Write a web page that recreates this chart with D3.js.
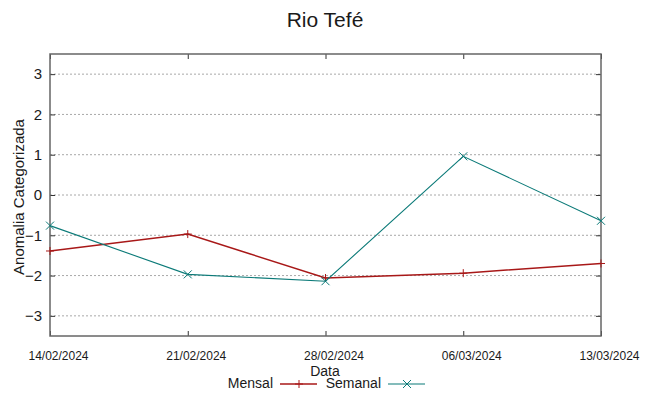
<!DOCTYPE html>
<html>
<head>
<meta charset="utf-8">
<script src="https://cdn.jsdelivr.net/npm/d3@7"></script>
<style>
    body { margin: 0; background: #fff; }
    text { font-family: "Liberation Sans", Arial, sans-serif; fill: #1a1a1a; }
</style>
</head>
<body>
<script>
// chart data
const dates = ["14/02/2024", "21/02/2024", "28/02/2024", "06/03/2024", "13/03/2024"];
const mensal = [-1.39, -0.97, -2.06, -1.94, -1.70];
const semanal = [-0.76, -1.97, -2.14, 0.96, -0.64];
const yTicks = [-3, -2, -1, 0, 1, 2, 3];
const seriesNames = ["Mensal", "Semanal"];

window.onload = initPage;

function initPage() {
    const svgInfo = {
        SVG_WIDTH: 649,
        SVG_HEIGHT: 396,
        SVG_ID: "svgVis",
        LEFT: 50,
        RIGHT: 601,
        TOP: 54,
        BOTTOM: 336,
    };
    initSvg(svgInfo);
    displayData(svgInfo);
}

function initSvg(svgInfo) {
    d3.select("body")
        .append("svg")
        .attr("width", svgInfo.SVG_WIDTH)
        .attr("height", svgInfo.SVG_HEIGHT)
        .attr("id", svgInfo.SVG_ID);
}

function displayData(svgInfo) {
    const svg = d3.select("#" + svgInfo.SVG_ID);
    const xAxis = d3.scalePoint()
        .domain(dates)
        .range([svgInfo.LEFT, svgInfo.RIGHT]);
    const yAxis = d3.scaleLinear()
        .domain([-3.5, 3.5])
        .range([svgInfo.BOTTOM, svgInfo.TOP]);

    // dotted horizontal grid
    svg.append("g")
        .selectAll("line")
        .data(yTicks)
        .enter()
        .append("line")
        .attr("x1", svgInfo.LEFT)
        .attr("x2", svgInfo.RIGHT)
        .attr("y1", (d) => yAxis(d))
        .attr("y2", (d) => yAxis(d))
        .attr("stroke", "#a8a8a8")
        .attr("stroke-width", 1)
        .attr("stroke-dasharray", "2,2");

    // axes, ticks pointing inwards like gnuplot
    const left = svg.append("g")
        .attr("transform", `translate(${svgInfo.LEFT},0)`)
        .call(d3.axisLeft(yAxis).tickValues(yTicks).tickFormat(d3.format("d"))
            .tickSizeInner(-5).tickSizeOuter(0).tickPadding(8));
    left.selectAll("text").style("font-size", "15px");
    svg.append("g")
        .attr("transform", `translate(${svgInfo.RIGHT},0)`)
        .call(d3.axisRight(yAxis).tickValues(yTicks).tickSizeInner(-5).tickSizeOuter(0).tickFormat(""));
    const bottom = svg.append("g")
        .attr("transform", `translate(0,${svgInfo.BOTTOM})`)
        .call(d3.axisBottom(xAxis).tickSizeInner(-5).tickSizeOuter(0));
    bottom.selectAll("text")
        .attr("x", 8)
        .attr("y", 24)
        .attr("dy", null)
        .style("font-size", "12px");
    svg.append("g")
        .attr("transform", `translate(0,${svgInfo.TOP})`)
        .call(d3.axisTop(xAxis).tickSizeInner(-5).tickSizeOuter(0).tickFormat(""));
    svg.selectAll(".domain").remove();
    svg.selectAll(".tick line").attr("stroke", "#333").attr("stroke-width", 1);

    // plot border
    svg.append("rect")
        .attr("x", svgInfo.LEFT)
        .attr("y", svgInfo.TOP)
        .attr("width", svgInfo.RIGHT - svgInfo.LEFT)
        .attr("height", svgInfo.BOTTOM - svgInfo.TOP)
        .attr("fill", "none")
        .attr("stroke", "#666")
        .attr("stroke-width", 1.5);

    const colors = ["#a81818", "#0b7a78"];
    const widths = [1.5, 1.1];
    const allSeries = [mensal, semanal];
    const line = d3.line()
        .x((d, i) => xAxis(dates[i]))
        .y((d) => yAxis(d));

    allSeries.forEach((values, s) => {
        svg.append("path")
            .datum(values)
            .attr("d", line)
            .attr("fill", "none")
            .attr("stroke", colors[s])
            .attr("stroke-width", widths[s]);
        svg.append("g")
            .selectAll("path")
            .data(values)
            .enter()
            .append("path")
            .attr("transform", (d, i) => `translate(${xAxis(dates[i])},${yAxis(d)})`)
            .attr("d", s === 0 ? "M-4,0H4M0,-4V4" : "M-4,-4L4,4M-4,4L4,-4")
            .attr("stroke", colors[s])
            .attr("stroke-width", 1);
    });

    // title and axis labels
    svg.append("text")
        .attr("x", 325)
        .attr("y", 27)
        .attr("text-anchor", "middle")
        .style("font-size", "21px")
        .text("Rio Tefé");
    svg.append("text")
        .attr("transform", "translate(24,197) rotate(-90)")
        .attr("text-anchor", "middle")
        .style("font-size", "15px")
        .text("Anomalia Categorizada");
    svg.append("text")
        .attr("x", 325)
        .attr("y", 376)
        .attr("text-anchor", "middle")
        .style("font-size", "14px")
        .text("Data");

    // legend
    const legendX = [273, 381];
    seriesNames.forEach((name, s) => {
        const g = svg.append("g").attr("transform", `translate(${legendX[s]},0)`);
        g.append("text")
            .attr("x", 0)
            .attr("y", 388)
            .attr("text-anchor", "end")
            .style("font-size", "14px")
            .text(name);
        g.append("line")
            .attr("x1", 7)
            .attr("x2", 44)
            .attr("y1", 384)
            .attr("y2", 384)
            .attr("stroke", colors[s])
            .attr("stroke-width", widths[s]);
        g.append("path")
            .attr("transform", "translate(26,384)")
            .attr("d", s === 0 ? "M-4,0H4M0,-4V4" : "M-4,-4L4,4M-4,4L4,-4")
            .attr("stroke", colors[s])
            .attr("stroke-width", 1);
    });
}
</script>
</body>
</html>
